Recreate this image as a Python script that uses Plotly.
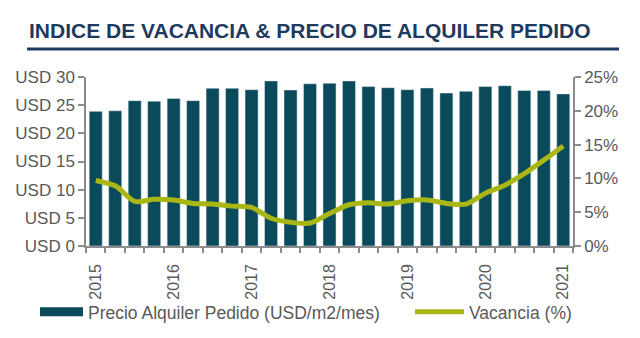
import plotly.graph_objects as go

quarters = list(range(25))
year_ticks = [0, 4, 8, 12, 16, 20, 24]
year_labels = ["2015", "2016", "2017", "2018", "2019", "2020", "2021"]
precio = [23.9, 24.0, 25.8, 25.7, 26.2, 25.8, 28.0, 28.0, 27.75, 29.3, 27.7, 28.8,
          28.9, 29.3, 28.3, 28.1, 27.75, 28.05, 27.15, 27.45, 28.3, 28.45, 27.6, 27.6, 27.0]
vacancia = [9.7, 8.9, 6.6, 6.9, 6.8, 6.3, 6.2, 5.9, 5.7, 4.1, 3.5, 3.4,
            4.8, 6.1, 6.4, 6.2, 6.7, 6.8, 6.3, 6.2, 7.8, 9.0, 10.7, 12.7, 14.8]
usd_ticks = [0, 5, 10, 15, 20, 25, 30]
usd_labels = ["USD 0", "USD 5", "USD 10", "USD 15", "USD 20", "USD 25", "USD 30"]

BAR = "#0b4a5a"
LINE = "#a8b714"
GRAY = "#595959"
AX = "#8c8c8c"
NAVY = "#1f3a5f"
FONT = "Liberation Sans, Arial, sans-serif"

fig = go.Figure()
fig.add_trace(go.Bar(x=quarters, y=precio, marker_color=BAR, width=0.67,
                     name="Precio Alquiler Pedido (USD/m2/mes)", showlegend=False))
fig.add_trace(go.Scatter(x=[None], y=[None], mode="lines", line=dict(color=BAR, width=9),
                         name="Precio Alquiler Pedido (USD/m2/mes)", legend="legend"))
fig.add_trace(go.Scatter(x=quarters, y=vacancia, mode="lines", yaxis="y2",
                         line=dict(color=LINE, width=5, shape="spline", smoothing=0.8),
                         name="Vacancia (%)", legend="legend2"))

minor_vals = [q - 0.5 for q in quarters] + [quarters[-1] + 0.5]

legend_common = dict(orientation="h", xanchor="left", y=-0.39, yanchor="middle",
                     font=dict(size=17.5, color=GRAY, family=FONT),
                     bgcolor="rgba(0,0,0,0)")

fig.update_layout(
    width=640, height=338,
    margin=dict(l=86, r=67, t=77, b=92, autoexpand=False),
    paper_bgcolor="white", plot_bgcolor="white",
    font=dict(family=FONT, color=GRAY, size=16),
    xaxis=dict(range=[-0.5, 24.5], tickvals=year_ticks, ticktext=year_labels,
               tickangle=-90, ticks="", ticklen=0, showgrid=False, zeroline=False,
               showline=True, linecolor=AX, linewidth=1.5, ticklabelstandoff=10,
               tickfont=dict(size=16, color=GRAY), automargin=False,
               minor=dict(tickvals=minor_vals, ticks="outside", ticklen=5,
                          tickcolor=AX, tickwidth=1.5, showgrid=False)),
    yaxis=dict(range=[0, 30], tickvals=usd_ticks, ticktext=usd_labels,
               ticks="outside", ticklen=6, tickcolor=AX, tickwidth=1.5, automargin=False,
               showline=True, linecolor=AX, linewidth=1.5, showgrid=False, zeroline=False,
               tickfont=dict(size=17, color=GRAY)),
    yaxis2=dict(range=[0, 25], dtick=5, ticksuffix="%", overlaying="y", side="right",
                ticks="outside", ticklen=6, tickcolor=AX, tickwidth=1.5, automargin=False,
                showline=True, linecolor=AX, linewidth=1.5, showgrid=False, zeroline=False,
                tickfont=dict(size=17, color=GRAY)),
    legend=dict(x=(35 - 86) / 487, itemwidth=43, **legend_common),
    legend2=dict(x=(410 - 86) / 487, itemwidth=49, **legend_common),
    bargap=0.33,
)

fig.add_annotation(text="<b>INDICE DE VACANCIA &amp; PRECIO DE ALQUILER PEDIDO</b>",
                   xref="paper", yref="paper", x=(27 - 86) / 487, y=(77 - 30) / 169 + 1,
                   xanchor="left", yanchor="middle", showarrow=False,
                   font=dict(size=21, color=NAVY, family=FONT))
fig.add_shape(type="line", xref="paper", yref="paper",
              x0=(27 - 86) / 487, x1=(619 - 86) / 487,
              y0=1 + (77 - 49) / 169, y1=1 + (77 - 49) / 169,
              line=dict(color=NAVY, width=3))

fig.write_html("out.html")
